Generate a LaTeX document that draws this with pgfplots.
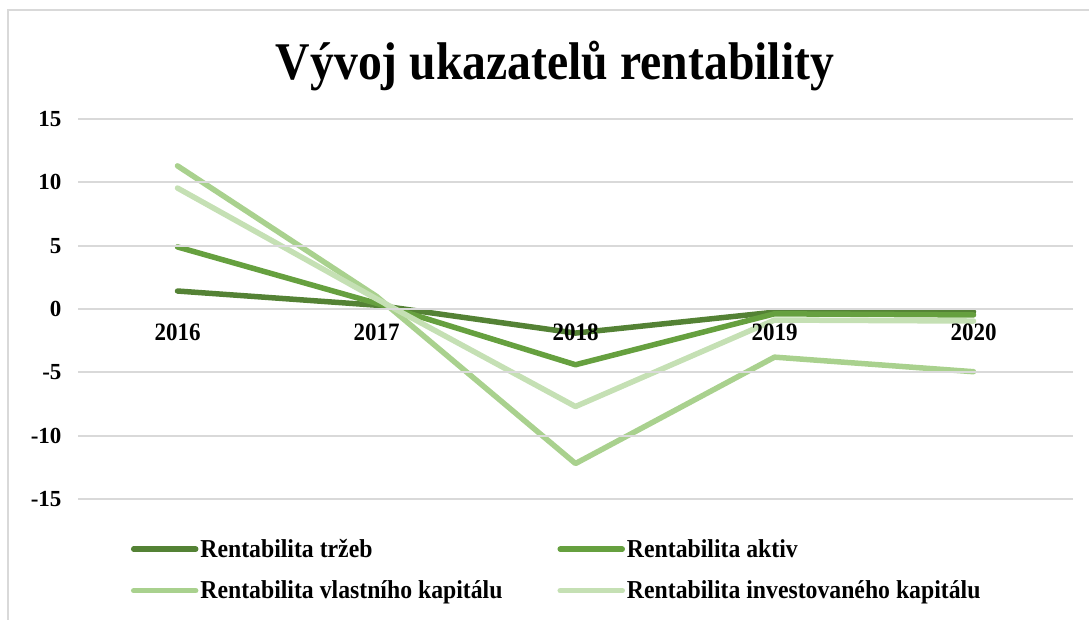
\documentclass[border=0pt]{standalone}
\usepackage{fontspec}
\setmainfont{Liberation Serif}
\newfontfamily\cfont{Liberation Serif}[FakeStretch=0.92]
\newfontfamily\tfont{Liberation Serif}[FakeStretch=0.9]
\usepackage{pgfplots}
\pgfplotsset{compat=1.18}
\pgfplotsset{layers/mylayers/.define layer set={axis background,axis grid,plots,axis ticks,axis lines,axis tick labels,main,axis descriptions,axis foreground}{}}
\definecolor{gA}{HTML}{548235}
\definecolor{gB}{HTML}{66A03F}
\definecolor{gC}{HTML}{A9D18E}
\definecolor{gD}{HTML}{C5E0B4}
\definecolor{gridgray}{HTML}{D9D9D9}
\begin{document}
\begin{tikzpicture}[x=1pt,y=1pt]
\begin{axis}[at={(0,0)}, anchor=south west, scale only axis,
  set layers=mylayers,
  width=995pt, height=380pt,
  xmin=-0.5, xmax=4.5, ymin=-15, ymax=15,
  xtick={0,1,2,3,4}, xticklabels={2016,2017,2018,2019,2020},
  ytick={-15,-10,-5,0,5,10,15}, yticklabels={-15,-10,-5,0,5,10,15},
  axis line style={draw=none}, major tick length=0pt,
  ymajorgrids, grid style={draw=gridgray, line width=2pt},
  xticklabel style={font=\cfont\fontsize{25}{30}\selectfont\bfseries, yshift=179pt},
  yticklabel style={font=\fontsize{23}{27}\selectfont\bfseries, xshift=-13pt},
  legend columns=2, legend cell align=left,
  legend style={draw=none, fill=none, at={(0.05,-0.095)}, anchor=north west,
    font=\cfont\fontsize{25.8}{30}\selectfont\bfseries, row sep=18pt,
    /tikz/column 2/.style={column sep=53pt}},
  legend image code/.code={\draw[#1, line width=5.5pt, line cap=round] (0pt,0pt) -- (62pt,0pt);},
  every axis plot/.append style={line width=5.5pt, line cap=round, line join=round, mark=none, /pgfplots/on layer=plots},
]
\addplot[gA] coordinates {(0,1.42) (1,0.3) (2,-1.9) (3,-0.25) (4,-0.22)};
\addlegendentry{Rentabilita tržeb}
\addplot[gB] coordinates {(0,4.9) (1,0.45) (2,-4.4) (3,-0.38) (4,-0.47)};
\addlegendentry{Rentabilita aktiv}
\addplot[gC] coordinates {(0,11.3) (1,1.0) (2,-12.2) (3,-3.8) (4,-4.95)};
\addlegendentry{Rentabilita vlastního kapitálu}
\addplot[gD] coordinates {(0,9.55) (1,0.8) (2,-7.7) (3,-0.87) (4,-0.95)};
\addlegendentry{Rentabilita investovaného kapitálu}
\end{axis}
\node[font=\tfont\fontsize{53}{60}\selectfont\bfseries, anchor=base] at (477,419) {Vývoj ukazatelů rentability};
\draw[gridgray, line width=1.5pt] (-70,-125) -- (-70,489) -- (1020,489);
\pgfresetboundingbox
\useasboundingbox (-78,-120) rectangle (1011,499);
\end{tikzpicture}
\end{document}
